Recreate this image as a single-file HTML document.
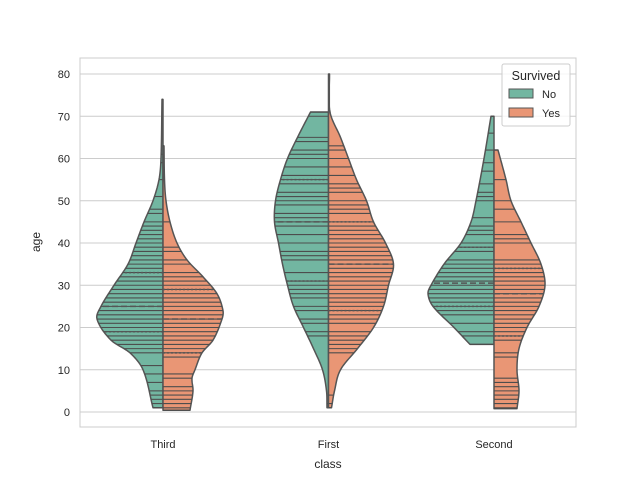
<!DOCTYPE html>
<html><head><meta charset="utf-8"><style>
body{margin:0;background:#fff;}
svg{display:block;font-family:"Liberation Sans","DejaVu Sans",sans-serif;}
</style></head><body>
<svg id="chart" width="640" height="480" viewBox="0 0 640 480">
<rect x="80" y="58" width="496" height="369" fill="#fff" stroke="#cccccc" stroke-width="1"/>
<g id="grid"></g>
<g id="violins"></g>
<g id="yticks"></g>
<g id="xticks"></g>
<text x="40" y="242" transform="rotate(-90 40 242)" text-anchor="middle" font-size="12" fill="#262626">age</text>
<text x="328" y="468" text-anchor="middle" font-size="12" fill="#262626">class</text>
<g>
<rect x="502" y="64" width="68" height="62" rx="2" fill="#fff" fill-opacity="0.8" stroke="#cccccc"/>
<text x="536" y="80" text-anchor="middle" font-size="12.5" fill="#262626">Survived</text>
<rect x="509" y="89" width="24" height="9" fill="#72b6a1" stroke="#555"/>
<text x="542" y="98" font-size="11" fill="#262626">No</text>
<rect x="509" y="108" width="24" height="9" fill="#e99675" stroke="#555"/>
<text x="542" y="117" font-size="11" fill="#262626">Yes</text>
</g>
</svg>
<script>
const categories = ["Third","First","Second"];
const yTicks = [0,10,20,30,40,50,60,70,80];
// density half-widths (px) read at ages
const thirdNoAges = [1,10,14,17,22,25,30,35,40,45,50,55,60,74];
const thirdNoW    = [10,20,33,52,66,62,49,35,27,19,10,4,2,1];
const thirdYesAges= [0.4,5,8,10,14,17,22,24,28,32,36,40,45,50,55,63];
const thirdYesW   = [27,30,29,32,39,50,59,60,54,40,24,14,7,3,1.5,1];
const firstNoAges = [1,5,10,15,20,25,30,35,40,45,50,55,60,65,71];
const firstNoW    = [1.5,2,6,15,25,35,41,46,50,54,53,48,41,31,18];
const firstYesAges= [1,5,10,15,20,25,30,35,40,45,50,55,60,65,71,80];
const firstYesW   = [3,6,12,29,45,55,60,65,57,45,38,28,20,12,1.5,1];
const secondNoAges= [16,20,25,28,30,35,40,45,50,60,70];
const secondNoW   = [24,40,61,66,63,50,33,23,18,10,3];
const secondYesAges=[0.8,5,10,15,20,25,30,35,40,45,50,55,62];
const secondYesW  = [23,25,23,25,33,45,51,47,37,27,17,12,4];
// quartiles
const quartNo  = [[19,25,33],[31,45,55],[25,30.5,39]];
const quartYes = [[14,22,29],[24,35,45],[18,28,34]];
// individual observations (sticks)
const sticksNo = [
 [1,2,3,4,5,7,9,11,14,15,16,17,18,19,20,21,22,23,24,25,26,27,28,29,30,31,32,33,34,35,36,37,38,39,40,41,42,43,44,45,47,48,51,55,59,61,74],
 [2,18,19,21,22,24,25,27,28,29,30,31,33,36,37,38,40,42,44,45,46,47,49,50,51,52,54,55,56,58,60,61,62,64,65,70,71],
 [16,18,19,21,23,24,25,26,27,28,29,30,31,32,33,34,35,36,38,39,40,42,43,44,46,50,51,52,54,57,59,62,66,70]
];
const sticksYes = [
 [0.4,1,2,3,4,5,6,8,9,13,14,15,16,17,18,19,20,21,22,23,24,25,26,27,28,29,30,31,32,33,35,36,38,39,45,63],
 [1,2,4,14,15,16,17,18,19,21,22,23,24,25,26,27,28,29,30,31,32,33,34,35,36,37,38,39,40,41,42,43,44,45,47,48,49,50,52,53,54,56,58,60,62,63,80],
 [0.8,1,2,3,4,5,6,7,8,13,14,17,18,19,20,21,22,23,24,25,26,27,28,29,30,31,32,33,34,35,36,40,41,42,45,48,50,55,62]
];
const noAges=[thirdNoAges,firstNoAges,secondNoAges], noW=[thirdNoW,firstNoW,secondNoW];
const yesAges=[thirdYesAges,firstYesAges,secondYesAges], yesW=[thirdYesW,firstYesW,secondYesW];

const NS="http://www.w3.org/2000/svg";
const plotL=80, plotR=576;
function yScale(v){return 412 - v*4.225;}
function xScale(i){return 163 + i*165.5;}
function interp(ages,w,a){
  const n=ages.length;
  if(a<=ages[0]) return w[0];
  if(a>=ages[n-1]) return w[n-1];
  let k=1; while(a>ages[k]) k++;
  const x0=ages[k-1],x1=ages[k],h=x1-x0,t=(a-x0)/h;
  const m=j=>{ if(j<=0) return (w[1]-w[0])/(ages[1]-ages[0]); if(j>=n-1) return (w[n-1]-w[n-2])/(ages[n-1]-ages[n-2]); return (w[j+1]-w[j-1])/(ages[j+1]-ages[j-1]); };
  const m0=m(k-1)*h, m1=m(k)*h;
  const t2=t*t,t3=t2*t;
  const v=(2*t3-3*t2+1)*w[k-1]+(t3-2*t2+t)*m0+(-2*t3+3*t2)*w[k]+(t3-t2)*m1;
  return Math.max(0.8,v);
}
function mk(tag,attrs,parent){const e=document.createElementNS(NS,tag);for(const k in attrs)e.setAttribute(k,attrs[k]);parent.appendChild(e);return e;}
const grid=document.getElementById('grid'), yt=document.getElementById('yticks'), xt=document.getElementById('xticks'), vg=document.getElementById('violins');
yTicks.forEach(t=>{
  const l=mk('line',{x1:plotL,x2:plotR,y1:yScale(t),y2:yScale(t),stroke:'#cccccc','stroke-width':1},grid);
  
  
  const tx=mk('text',{x:70,y:yScale(t)+4,'text-anchor':'end','font-size':11,fill:'#262626'},yt);
  tx.textContent=t;
  
  
});
categories.forEach((c,i)=>{
  const tx=mk('text',{x:xScale(i),y:448,'text-anchor':'middle','font-size':11,fill:'#262626'},xt);
  tx.textContent=c;
  
  
});
function half(i,ages,w,sign,fill,sticks,q,name){
  const cx=xScale(i);
  const g=mk('g',{},vg);
  
  
  let d='M'+cx+','+yScale(ages[0]);
  const a0=ages[0], a1=ages[ages.length-1], n=150;
  for(let k=0;k<=n;k++){const a=a0+(a1-a0)*k/n;d+=' L'+(cx+sign*interp(ages,w,a)).toFixed(2)+','+yScale(a).toFixed(2);}
  d+=' L'+cx+','+yScale(a1)+' Z';
  const p=mk('path',{d:d,fill:fill,stroke:'#555555','stroke-width':1.5,'stroke-linejoin':'round'},g);
  
  
  sticks.forEach(a=>{
    const l=mk('line',{x1:cx,x2:cx+sign*interp(ages,w,a),y1:yScale(a),y2:yScale(a),stroke:'#4d4d4d','stroke-width':1.1},g);
    
    
  });
  q.forEach((a,k)=>{
    const l=mk('line',{x1:cx,x2:cx+sign*interp(ages,w,a),y1:yScale(a),y2:yScale(a),stroke:'#555555','stroke-width':1.5,'stroke-dasharray':k==1?'6,3':'2,2'},g);
    
    
  });
}
categories.forEach((c,i)=>{
  half(i,noAges[i],noW[i],-1,'#72b6a1',sticksNo[i],quartNo[i],'violin-'+c.toLowerCase()+'-no');
  half(i,yesAges[i],yesW[i],1,'#e99675',sticksYes[i],quartYes[i],'violin-'+c.toLowerCase()+'-yes');
});
</script>
</body></html>
